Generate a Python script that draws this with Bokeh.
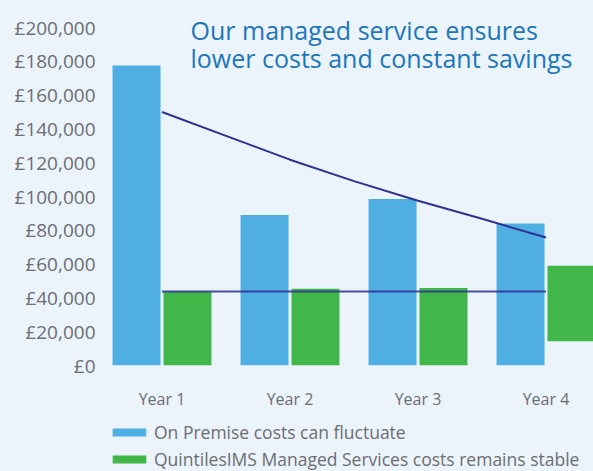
from bokeh.plotting import figure
from bokeh.layouts import column
from bokeh.models import (FixedTicker, Range1d, Legend, LegendItem, Label, ColumnDataSource)
from bokeh.embed import file_html
from bokeh.resources import INLINE

# ---- data ----
years = ["Year 1", "Year 2", "Year 3", "Year 4"]
on_premise = [177500, 89000, 98500, 84000]
managed_top = [43800, 45400, 45800, 59000]
managed_bottom = [0, 0, 0, 14300]
trend_x = [0, 0.5, 1, 1.5, 2, 2.5, 3]
trend_y = [150000, 135900, 121800, 109100, 97500, 86800, 75700]
stable_x = [0, 3]
stable_y = [43800, 43800]
y_ticks = [0, 20000, 40000, 60000, 80000, 100000, 120000, 140000, 160000, 180000, 200000]
y_tick_labels = ["£0", "£20,000", "£40,000", "£60,000", "£80,000", "£100,000",
                 "£120,000", "£140,000", "£160,000", "£180,000", "£200,000"]
title_lines = ["Our managed service ensures", "lower costs and constant savings"]
legend_labels = ["On Premise costs can fluctuate",
                 "QuintilesIMS Managed Services costs remains stable"]

BG = "#EBF3FB"
BLUE = "#4FAFE3"
GREEN = "#41B649"
NAVY = "#2E3192"
GREY = "#6D6E71"
FONT = "Open Sans"

idx = list(range(len(years)))
offset = 0.199
bw = 0.375

P_H = 412
p = figure(width=593, height=P_H, output_backend="svg", toolbar_location=None,
           x_range=Range1d(-0.4805, 3.371), y_range=Range1d(0, 216000),
           background_fill_color=BG, border_fill_color=BG,
           min_border_left=100, min_border_right=0, min_border_top=0, min_border_bottom=P_H - 365)
p.outline_line_color = None
p.grid.visible = False

src_b = ColumnDataSource(dict(x=[i - offset for i in idx], top=on_premise))
src_g = ColumnDataSource(dict(x=[i + offset for i in idx], top=managed_top, bottom=managed_bottom))
p.vbar(x="x", top="top", width=bw, source=src_b, fill_color=BLUE, line_color=None)
p.vbar(x="x", top="top", bottom="bottom", width=bw, source=src_g, fill_color=GREEN, line_color=None)

p.line(x=trend_x, y=trend_y, line_color=NAVY, line_width=2)
p.line(x=stable_x, y=stable_y, line_color=NAVY, line_width=2, line_alpha=0.85)

# axes
p.yaxis.ticker = FixedTicker(ticks=y_ticks)
p.yaxis.major_label_overrides = {t: l for t, l in zip(y_ticks, y_tick_labels)}
p.xaxis.ticker = FixedTicker(ticks=idx)
p.xaxis.major_label_overrides = {i: y for i, y in zip(idx, years)}
for ax in (p.xaxis, p.yaxis):
    ax.axis_line_color = None
    ax.major_tick_line_color = None
    ax.minor_tick_line_color = None
    ax.major_tick_out = 0
    ax.major_label_text_font = FONT
    ax.major_label_text_color = GREY
p.yaxis.major_label_text_font_size = "19px"
p.yaxis.major_label_standoff = 5
p.xaxis.major_label_text_font_size = "16px"
p.xaxis.major_label_standoff = 22

# title inside plot
for line, yb in zip(title_lines, [198800, 182200]):
    p.add_layout(Label(x=0.2227, y=yb, text=line, text_font=FONT, text_font_size="25px",
                       text_color="#2176B8", text_baseline="alphabetic"))

# legend in a strip below
Q_H = 471 - P_H
q = figure(width=593, height=Q_H, output_backend="svg", toolbar_location=None,
           x_range=Range1d(0, 1), y_range=Range1d(0, 1),
           x_axis_location=None, y_axis_location=None,
           background_fill_color=BG, border_fill_color=BG,
           min_border_left=0, min_border_right=0, min_border_top=0, min_border_bottom=0)
q.outline_line_color = None
q.grid.visible = False
lb = q.vbar(x=[5], top=[0.5], width=0.1, fill_color=BLUE, line_color=None)
lg = q.vbar(x=[5], top=[0.5], width=0.1, fill_color=GREEN, line_color=None)
legend = Legend(items=[LegendItem(label=legend_labels[0], renderers=[lb]),
                       LegendItem(label=legend_labels[1], renderers=[lg])],
                location=(8, 0), orientation="vertical",
                background_fill_alpha=0, border_line_color=None,
                glyph_width=42, glyph_height=10, label_standoff=4, label_height=20,
                label_text_font=FONT, label_text_font_size="17.5px", label_text_color=GREY,
                spacing=3, padding=0, margin=0)
q.add_layout(legend)

layout = column(p, q, spacing=0, styles={"background-color": BG})
open("out.html", "w").write(file_html(layout, INLINE))
